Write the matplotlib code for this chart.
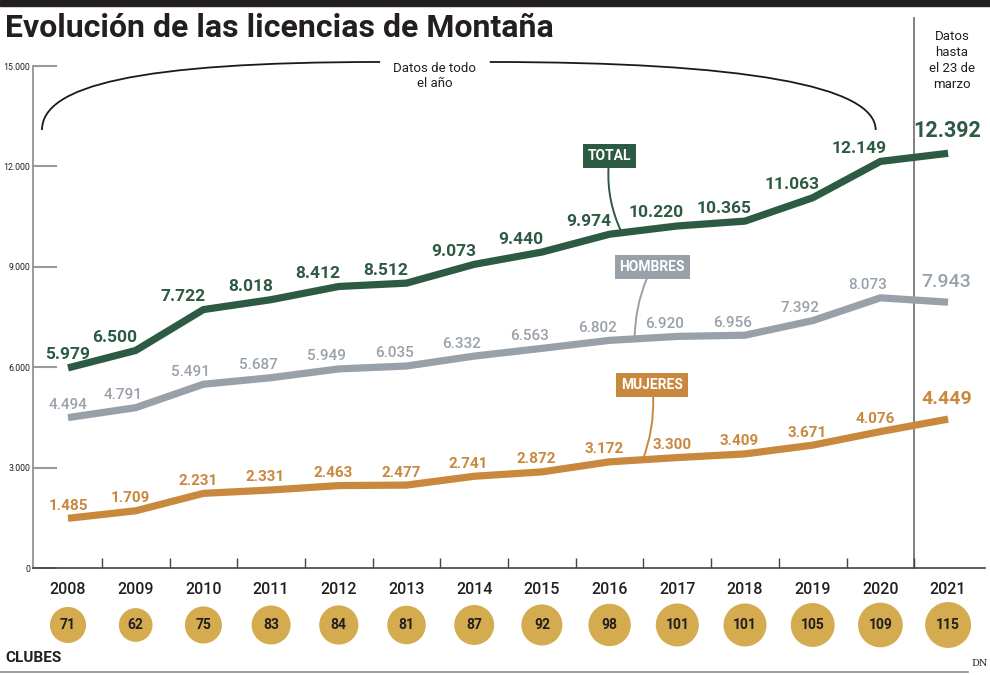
import numpy as np
import matplotlib
matplotlib.use('Agg')
import matplotlib.pyplot as plt
from matplotlib.path import Path
from matplotlib.patches import PathPatch, Rectangle
from matplotlib.lines import Line2D

plt.rcParams['font.family'] = ['Roboto', 'DejaVu Sans']

# data
years = [2008, 2009, 2010, 2011, 2012, 2013, 2014, 2015, 2016, 2017, 2018, 2019, 2020, 2021]
total = [5979, 6500, 7722, 8018, 8412, 8512, 9073, 9440, 9974, 10220, 10365, 11063, 12149, 12392]
hombres = [4494, 4791, 5491, 5687, 5949, 6035, 6332, 6563, 6802, 6920, 6956, 7392, 8073, 7943]
mujeres = [1485, 1709, 2231, 2331, 2463, 2477, 2741, 2872, 3172, 3300, 3409, 3671, 4076, 4449]
clubes = [71, 62, 75, 83, 84, 81, 87, 92, 98, 101, 101, 105, 109, 115]
yticks = [0, 3000, 6000, 9000, 12000, 15000]

c_total = '#2d5a43'
c_homb = '#98a1aa'
c_muj = '#c8893f'
c_club = '#d4ab4f'
c_text = '#231f20'

def fmt(v):
    return f'{v:,}'.replace(',', '.')

fig = plt.figure(figsize=(9.9, 6.75), dpi=100)
ax = fig.add_axes([33 / 990, 107 / 675, 952 / 990, 502 / 675])
ax.set_xlim(2007.483, 2021.545)
ax.set_ylim(0, 15000)

# lines
series = [
    (total, c_total, 'bold', 12.5, -15),
    (hombres, c_homb, 'medium', 11, -9),
    (mujeres, c_muj, 'bold', 11, -4),
]
for vals, col, w, fs, dx in series:
    ax.plot(years, vals, color=col, lw=5.2, solid_capstyle='butt',
            solid_joinstyle='round', zorder=3)
    n = len(vals)
    for i, (x, v) in enumerate(zip(years, vals)):
        if i == n - 1:
            ax.annotate(fmt(v), (x, v), xytext=(-1, 8), textcoords='offset points',
                        ha='center', va='bottom', color=col, fontsize=fs + 3,
                        fontweight=w, zorder=4, annotation_clip=False)
        else:
            ox = 0 if i == 0 else dx
            ax.annotate(fmt(v), (x, v), xytext=(ox, 4), textcoords='offset points',
                        ha='center', va='bottom', color=col, fontsize=fs,
                        fontweight=w, zorder=4)

# series name boxes with leaders
labels = [
    ('TOTAL', total, c_total, (2016.0, 12311), 2016.18, 0.15),
    ('HOMBRES', hombres, c_homb, (2016.63, 8994), 2016.37, 0.12),
    ('MUJERES', mujeres, c_muj, (2016.63, 5468), 2016.49, -0.12),
]
for name, vals, col, pos, xe, rad in labels:
    ye = np.interp(xe, years, vals)
    ax.annotate(name, xy=(xe, ye), xytext=pos, ha='center', va='center',
                color='white', fontsize=10, fontweight='bold', zorder=5,
                bbox=dict(boxstyle='square,pad=0.35', fc=col, ec='none'),
                arrowprops=dict(arrowstyle='-', color=col, lw=1.4, shrinkA=0, shrinkB=0,
                                connectionstyle=f'arc3,rad={rad}'))

# axes styling
for s in ['top', 'right']:
    ax.spines[s].set_visible(False)
ax.spines['left'].set_color('#8a8a8a')
ax.spines['left'].set_linewidth(1.2)
ax.spines['bottom'].set_color('#444444')
ax.spines['bottom'].set_linewidth(1.2)
ax.set_yticks(yticks)
ax.set_yticklabels([fmt(t) for t in yticks])
ax.tick_params(axis='y', direction='in', length=17, width=1.5, color='#9a9a9a',
               labelsize=6.3, labelcolor=c_text, pad=2)
ax.set_xticks(years)
ax.set_xticklabels([str(y) for y in years])
ax.set_xticks([y + 0.5 for y in years[:-1]], minor=True)
ax.tick_params(axis='x', which='major', length=0, pad=10, labelsize=11.5,
               labelcolor=c_text)
ax.tick_params(axis='x', which='minor', direction='in', length=7, width=1,
               color='#444444')
for lab in ax.get_xticklabels():
    lab.set_fontweight('medium')

# separator for partial year
ax.axvline(2020.5, ymin=0, ymax=1.0956, color='#6b6b6b', lw=1.2, clip_on=False, zorder=1)

# clubs bubbles
trans = ax.get_xaxis_transform()
ax.scatter(years, [-0.1135] * len(years), s=[c * 9.5 for c in clubes], color=c_club,
           transform=trans, clip_on=False, zorder=3, linewidths=0)
for x, c in zip(years, clubes):
    ax.text(x, -0.1135, str(c), transform=trans, ha='center', va='center',
            fontsize=10, fontweight='bold', color=c_text, zorder=4)

# bracket "Datos de todo el año"
left = Path([(2007.616, 13088), (2007.616, 14400), (2009.0, 15120), (2012.61, 15120)],
            [Path.MOVETO, Path.CURVE4, Path.CURVE4, Path.CURVE4])
right = Path([(2014.23, 15120), (2018.0, 15120), (2019.93, 14400), (2019.93, 13088)],
             [Path.MOVETO, Path.CURVE4, Path.CURVE4, Path.CURVE4])
for p in (left, right):
    ax.add_patch(PathPatch(p, fc='none', ec='#1a1a1a', lw=1.3, clip_on=False))
ax.text(2013.42, 15120, 'Datos de todo\nel año', ha='center', va='top',
        fontsize=9.5, color=c_text, linespacing=1.25, clip_on=False)

# right note
fig.text(952 / 990, 1 - 30 / 675, 'Datos\nhasta\nel 23 de\nmarzo', ha='center', va='top',
         fontsize=9.5, color=c_text, linespacing=1.3)

# title and decorations
fig.patches.append(Rectangle((0, 1 - 6 / 675), 1, 6 / 675, transform=fig.transFigure,
                             color='#231f20', zorder=0))
fig.text(5 / 990, 1 - 28 / 675, 'Evolución de las licencias de Montaña', ha='left',
         va='center', fontsize=23, fontweight='bold', color=c_text)
fig.text(5 / 990, 1 - 658 / 675, 'CLUBES', ha='left', va='center', fontsize=11,
         fontweight='bold', color=c_text)
fig.lines.append(Line2D([0, 968 / 990], [1 - 672 / 675] * 2, transform=fig.transFigure,
                        color='#8a8a8a', lw=1.2))
fig.text(980 / 990, 1 - 664 / 675, 'DN', ha='center', va='center', fontsize=7,
         family='DejaVu Serif', color=c_text)

fig.savefig('out.png', dpi=100)
